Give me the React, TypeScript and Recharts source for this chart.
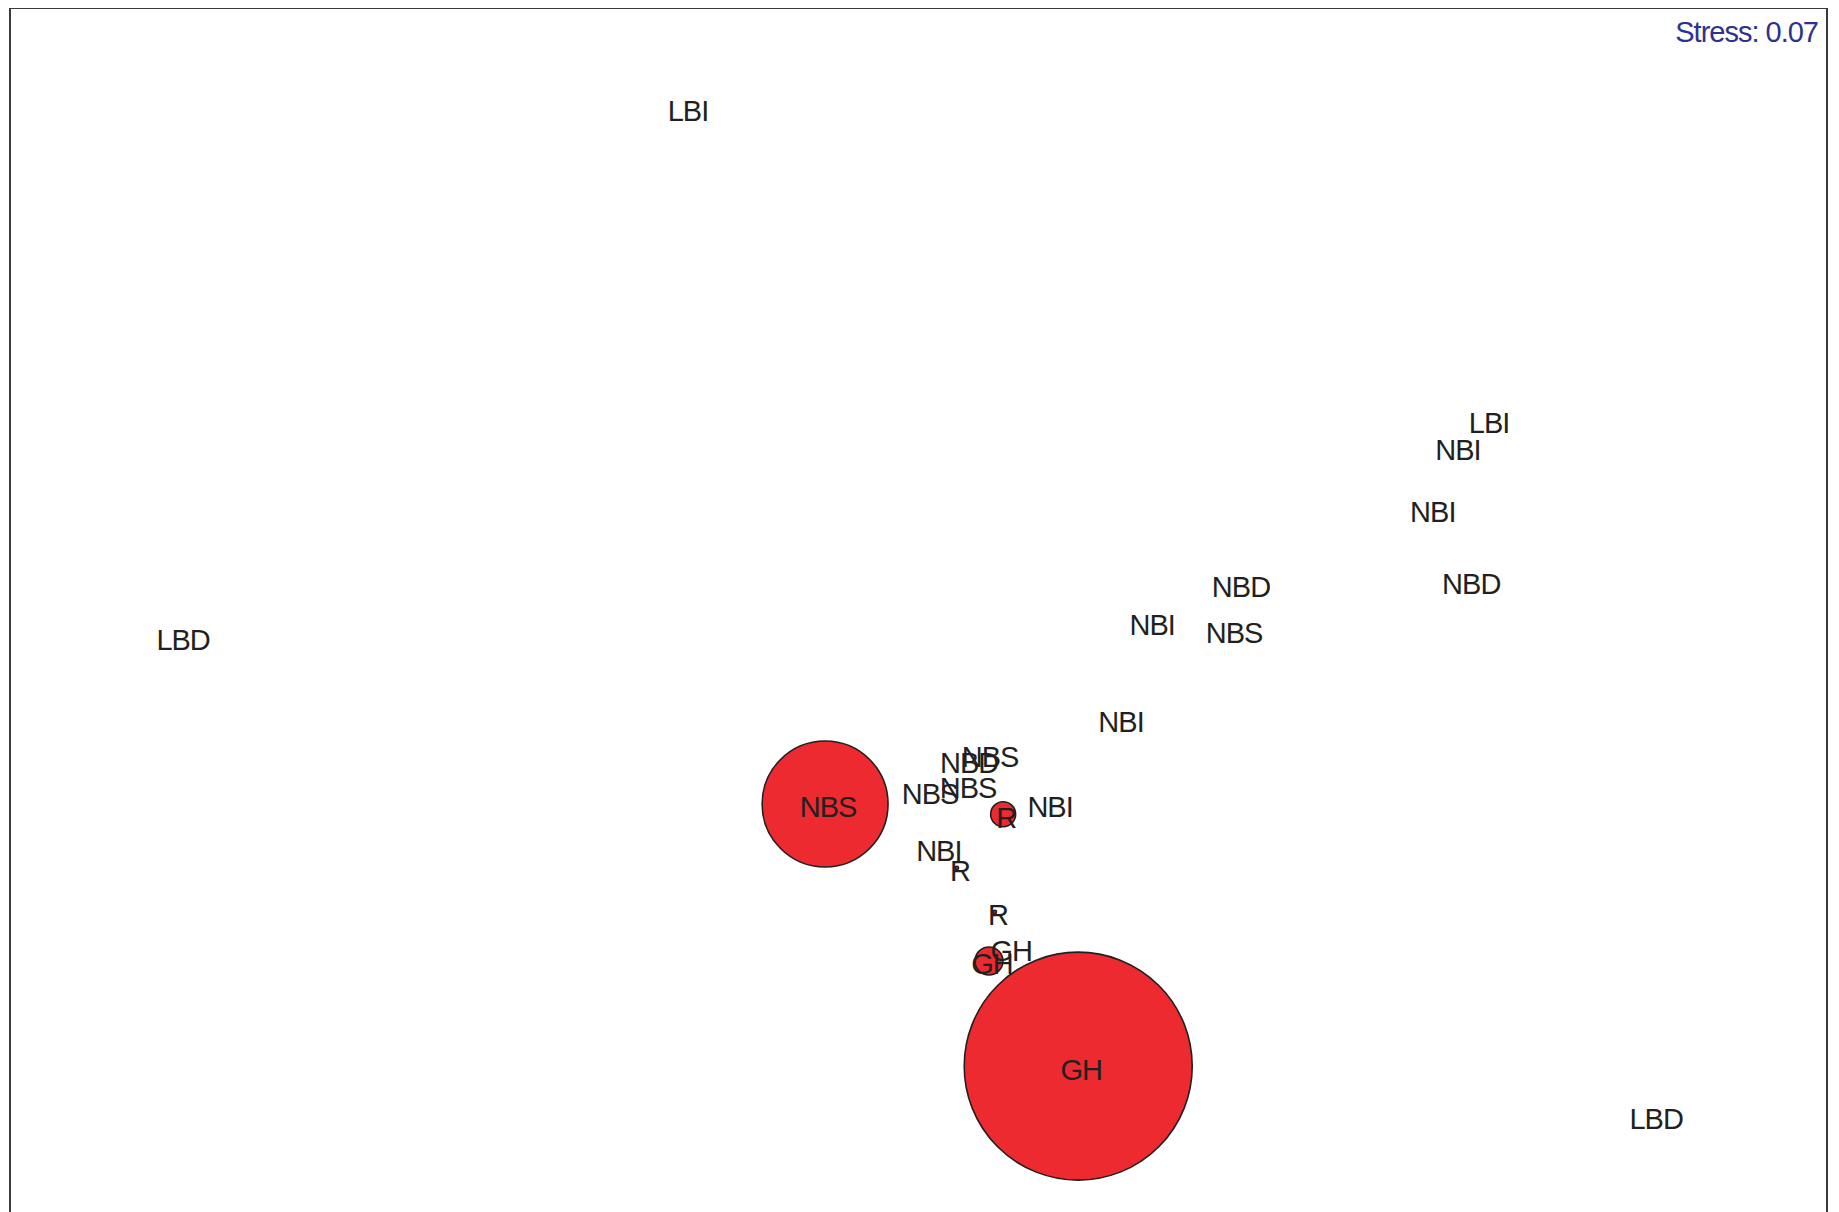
import { Scatter, ScatterChart, XAxis, YAxis, ZAxis } from "recharts";

// MDS ordination of the samples, with bubbles sized by abundance
const sampleLabels = [
  "LBI", "LBI", "NBI", "NBI", "NBD", "NBD", "NBI", "NBS", "LBD", "NBI", "NBS", "NBD",
  "NBS", "NBS", "NBS", "R", "NBI", "NBI", "R", "R", "GH", "GH", "GH", "LBD",
];
const mdsX = [
  -0.521, 1.229, 1.161, 1.106, 1.19, 0.687, 0.493, 0.672, -1.624, 0.425, -0.215, 0.093,
  0.139, 0.091, 0.008, 0.174, 0.27, 0.027, 0.073, 0.156, 0.185, 0.143, 0.338, 1.594,
];
const mdsY = [
  0.784, 0.112, 0.052, -0.082, -0.237, -0.242, -0.324, -0.343, -0.358, -0.535, -0.719, -0.622,
  -0.609, -0.676, -0.689, -0.741, -0.717, -0.814, -0.857, -0.952, -1.03, -1.058, -1.285, -1.391,
];
const abundance = [
  0, 0, 0, 0, 0, 0, 0, 0, 0, 0, 30.5, 0,
  0, 0, 0, 1.2, 0, 0, 0.02, 0.02, 0, 1.5, 100, 0,
];
const stressLabel = "Stress: 0.07";

const points = sampleLabels.map((label, i) => ({
  label,
  x: mdsX[i],
  y: mdsY[i],
  z: abundance[i],
}));

const W = 1831;
const H = 1204;
const MAX_RADIUS = 114;
const FONT = "'Liberation Sans', Arial, Helvetica, sans-serif";

function Bubble(props: any) {
  const { cx, cy, width } = props;
  const r = (width ?? 0) / 2;
  if (!(r > 0.2)) return <g />;
  return <circle cx={cx} cy={cy} r={r} fill="#ec2a2f" stroke="#231f20" strokeWidth={1.6} />;
}

function SampleLabel(props: any) {
  const { cx, cy, payload } = props;
  return (
    <text
      x={cx + 3}
      y={cy + 3}
      dy="0.36em"
      textAnchor="middle"
      fontFamily={FONT}
      fontSize={29}
      letterSpacing={-1}
      fill="#231f20"
    >
      {payload.label}
    </text>
  );
}

export default function App() {
  return (
    <div style={{ position: "relative", width: W, height: H, overflow: "hidden", fontFamily: FONT }}>
      <div
        style={{
          position: "absolute",
          left: 1,
          top: -1,
          width: 1819,
          height: 1400,
          boxSizing: "border-box",
          border: "2px solid #3a3a3a",
        }}
      />
      <ScatterChart width={W} height={H} margin={{ top: 0, right: 0, bottom: 0, left: 0 }}>
        <XAxis type="number" dataKey="x" domain={[-2, 2]} hide allowDataOverflow />
        <YAxis type="number" dataKey="y" domain={[-1.6, 1.0]} hide allowDataOverflow />
        <ZAxis type="number" dataKey="z" domain={[0, 100]} range={[0, Math.PI * MAX_RADIUS * MAX_RADIUS]} />
        <Scatter data={points} shape={<Bubble />} isAnimationActive={false} />
        <Scatter data={points} shape={<SampleLabel />} isAnimationActive={false} />
        <text
          x={1810}
          y={24}
          dy="0.36em"
          textAnchor="end"
          fontFamily={FONT}
          fontSize={29}
          letterSpacing={-1}
          fill="#2e3192"
        >
          {stressLabel}
        </text>
      </ScatterChart>
    </div>
  );
}
